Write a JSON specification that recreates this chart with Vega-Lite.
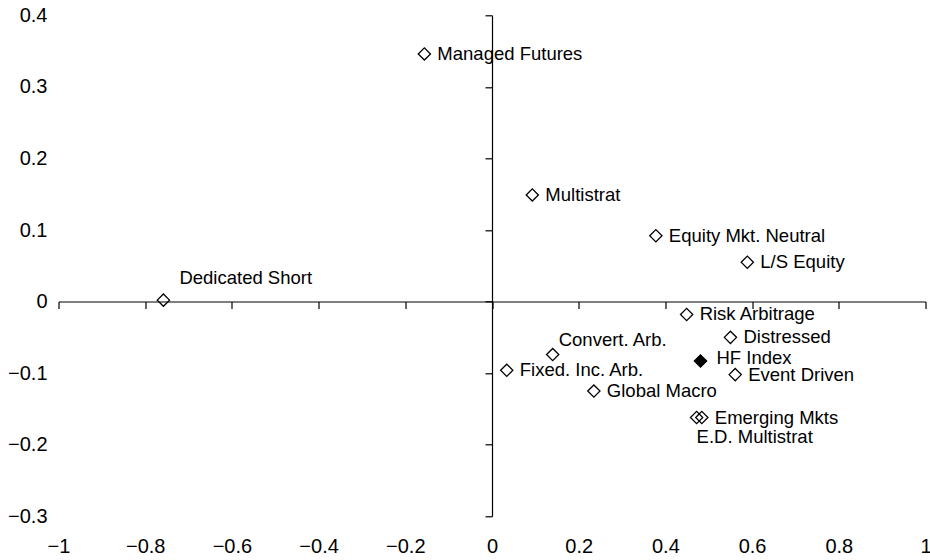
{
  "$schema": "https://vega.github.io/schema/vega-lite/v6.json",
  "width": 867,
  "height": 501,
  "autosize": {"type": "none"},
  "padding": {"left": 58.5, "top": 15.3, "right": 4.5, "bottom": 43.7},
  "background": "white",
  "config": {
    "view": {"stroke": null},
    "font": "Liberation Sans",
    "text": {"font": "Liberation Sans", "fontSize": 18.5, "color": "black"}
  },
  "data": {
    "values": [
      {"name": "Dedicated Short", "x": -0.758, "y": 0.002},
      {"name": "Managed Futures", "x": -0.156, "y": 0.346},
      {"name": "Multistrat", "x": 0.093, "y": 0.149},
      {"name": "Equity Mkt. Neutral", "x": 0.378, "y": 0.092},
      {"name": "L/S Equity", "x": 0.589, "y": 0.055},
      {"name": "Risk Arbitrage", "x": 0.449, "y": -0.018},
      {"name": "Distressed", "x": 0.550, "y": -0.050},
      {"name": "Convert. Arb.", "x": 0.140, "y": -0.074},
      {"name": "HF Index", "x": 0.481, "y": -0.083},
      {"name": "Fixed. Inc. Arb.", "x": 0.034, "y": -0.096},
      {"name": "Event Driven", "x": 0.561, "y": -0.102},
      {"name": "Global Macro", "x": 0.235, "y": -0.125},
      {"name": "Emerging Mkts", "x": 0.484, "y": -0.162},
      {"name": "E.D. Multistrat", "x": 0.472, "y": -0.162}
    ]
  },
  "encoding": {
    "x": {
      "field": "x",
      "type": "quantitative",
      "scale": {"domain": [-1, 1], "nice": false, "zero": false},
      "axis": {
        "title": null,
        "values": [-1, -0.8, -0.6, -0.4, -0.2, 0, 0.2, 0.4, 0.6, 0.8, 1],
        "format": "~g",
        "offset": -214.8,
        "tickSize": 7,
        "labelPadding": 228,
        "labelFlush": false,
        "labelOverlap": false,
        "grid": false,
        "domainColor": "black",
        "tickColor": "black",
        "labelColor": "black",
        "labelFont": "Liberation Sans",
        "labelFontSize": 20,
        "domainWidth": 1.2,
        "tickWidth": 1.2
      }
    },
    "y": {
      "field": "y",
      "type": "quantitative",
      "scale": {"domain": [-0.3, 0.4], "nice": false, "zero": false},
      "axis": {
        "title": null,
        "values": [-0.3, -0.2, -0.1, 0, 0.1, 0.2, 0.3, 0.4],
        "format": "~g",
        "offset": -433.5,
        "tickSize": 7,
        "labelPadding": 438,
        "labelFlush": false,
        "labelOverlap": false,
        "grid": false,
        "domainColor": "black",
        "tickColor": "black",
        "labelColor": "black",
        "labelFont": "Liberation Sans",
        "labelFontSize": 20,
        "domainWidth": 1.2,
        "tickWidth": 1.2
      }
    }
  },
  "layer": [
    {
      "mark": {"type": "point", "shape": "diamond", "size": 150, "strokeWidth": 1.3, "filled": true, "stroke": "black", "opacity": 1},
      "encoding": {
        "fill": {"condition": {"test": "datum.name === 'HF Index'", "value": "black"}, "value": "transparent"}
      }
    },
    {
      "transform": [{"filter": "indexof(['Dedicated Short','Convert. Arb.','E.D. Multistrat','HF Index'], datum.name) < 0"}],
      "mark": {"type": "text", "align": "left", "baseline": "middle", "dx": 13},
      "encoding": {"text": {"field": "name"}}
    },
    {
      "transform": [{"filter": "datum.name === 'Dedicated Short'"}],
      "mark": {"type": "text", "align": "left", "baseline": "middle", "dx": 16, "dy": -22},
      "encoding": {"text": {"field": "name"}}
    },
    {
      "transform": [{"filter": "datum.name === 'Convert. Arb.'"}],
      "mark": {"type": "text", "align": "left", "baseline": "middle", "dx": 6, "dy": -15},
      "encoding": {"text": {"field": "name"}}
    },
    {
      "transform": [{"filter": "datum.name === 'E.D. Multistrat'"}],
      "mark": {"type": "text", "align": "left", "baseline": "middle", "dx": 0, "dy": 19},
      "encoding": {"text": {"field": "name"}}
    },
    {
      "transform": [{"filter": "datum.name === 'HF Index'"}],
      "mark": {"type": "text", "align": "left", "baseline": "middle", "dx": 16, "dy": -3},
      "encoding": {"text": {"field": "name"}}
    }
  ]
}
